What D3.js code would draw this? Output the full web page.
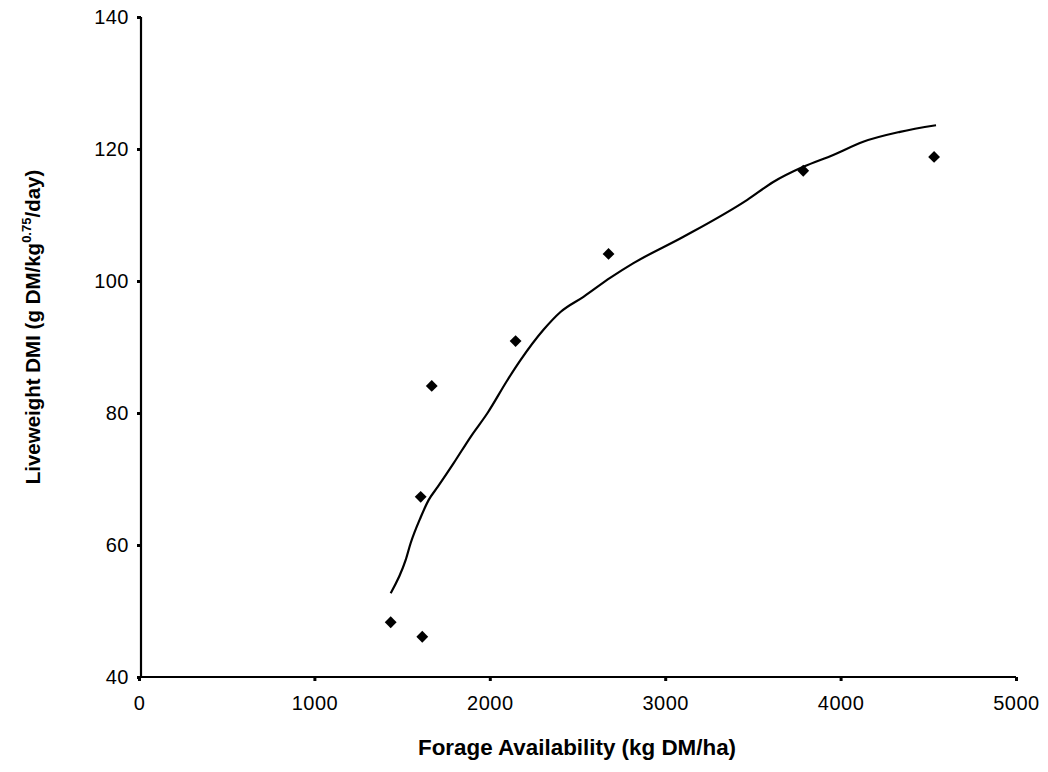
<!DOCTYPE html>
<html>
<head>
<meta charset="utf-8">
<script src="https://cdn.jsdelivr.net/npm/d3@7"></script>
<style>
  body { margin: 0; background: #fff; }
  svg { display: block; }
  text { font-family: "Liberation Sans", Arial, sans-serif; fill: #000; }
</style>
</head>
<body>
<svg id="chart" width="1048" height="772"></svg>
<script>
// Observed data points
const obsX = [1435, 1615, 1606, 1669, 2147, 2677, 3787, 4533];
const obsY = [48.3, 46.1, 67.3, 84.1, 90.9, 104.1, 116.7, 118.8];

// Fitted curve
const fitX = [1435, 1520, 1549, 1606, 1651, 1703, 1794, 1891, 1987, 2101, 2175, 2306, 2403, 2534, 2688, 2819, 3104, 3468, 3616, 3787, 3958, 4129, 4339, 4544];
const fitY = [52.7, 57.7, 60.3, 64.2, 66.8, 68.8, 72.4, 76.4, 80.0, 85.0, 88.0, 92.6, 95.3, 97.6, 100.5, 102.7, 106.7, 112.3, 115.0, 117.3, 119.1, 121.1, 122.6, 123.6];

const xTicks = [0, 1000, 2000, 3000, 4000, 5000];
const yTicks = [40, 60, 80, 100, 120, 140];

const svg = d3.select("#chart");
const x = d3.scaleLinear().domain([0, 5000]).range([139, 1016]);
const y = d3.scaleLinear().domain([40, 140]).range([677, 17]);

// Axes
const xAxis = svg.append("g").attr("transform", `translate(0,${y(40)})`)
  .call(d3.axisBottom(x).tickValues(xTicks).tickSize(4).tickPadding(15).tickFormat(d3.format("d")));
const yAxis = svg.append("g").attr("transform", `translate(${x(0) + 2},0)`)
  .call(d3.axisLeft(y).tickValues(yTicks).tickSize(4).tickPadding(8).tickFormat(d3.format("d")));

[xAxis, yAxis].forEach(g => {
  g.select(".domain").attr("stroke", "#000").attr("stroke-width", 2.2);
  g.selectAll(".tick line").attr("stroke", "#000").attr("stroke-width", 3);
  g.selectAll(".tick text").style("font-size", "20px").style("letter-spacing", "0.5px")
    .style("font-family", "'Liberation Sans', Arial, sans-serif").attr("fill", "#000");
});
xAxis.select(".domain").attr("d", `M${x(0)},0H${x(5000)}`);
yAxis.select(".domain").attr("d", `M0,${y(40)}V${y(140)}`);

// Fitted line
const pts = fitX.map((v, i) => [v, fitY[i]]);
svg.append("path")
  .datum(pts)
  .attr("fill", "none")
  .attr("stroke", "#000")
  .attr("stroke-width", 2.2)
  .attr("stroke-linejoin", "round")
  .attr("d", d3.line().x(d => x(d[0])).y(d => y(d[1])).curve(d3.curveMonotoneX));

// Observed points (diamonds)
const diamond = d3.symbol().type(d3.symbolSquare).size(70);
svg.append("g").selectAll("path")
  .data(obsX.map((v, i) => [v, obsY[i]]))
  .join("path")
  .attr("d", diamond)
  .attr("fill", "#000")
  .attr("transform", d => `translate(${x(d[0])},${y(d[1])}) rotate(45)`);

// Axis titles
svg.append("text")
  .attr("x", 577).attr("y", 755)
  .attr("text-anchor", "middle")
  .style("font-size", "22.4px").style("font-weight", "bold")
  .text("Forage Availability (kg DM/ha)");

const yt = svg.append("text")
  .attr("transform", "translate(40,327) rotate(-90)")
  .attr("text-anchor", "middle")
  .style("font-size", "20.5px").style("font-weight", "bold");
yt.append("tspan").text("Liveweight DMI (g DM/kg");
yt.append("tspan").attr("dy", -9).style("font-size", "13px").text("0.75");
yt.append("tspan").attr("dy", 9).text("/day)");
</script>
</body>
</html>
